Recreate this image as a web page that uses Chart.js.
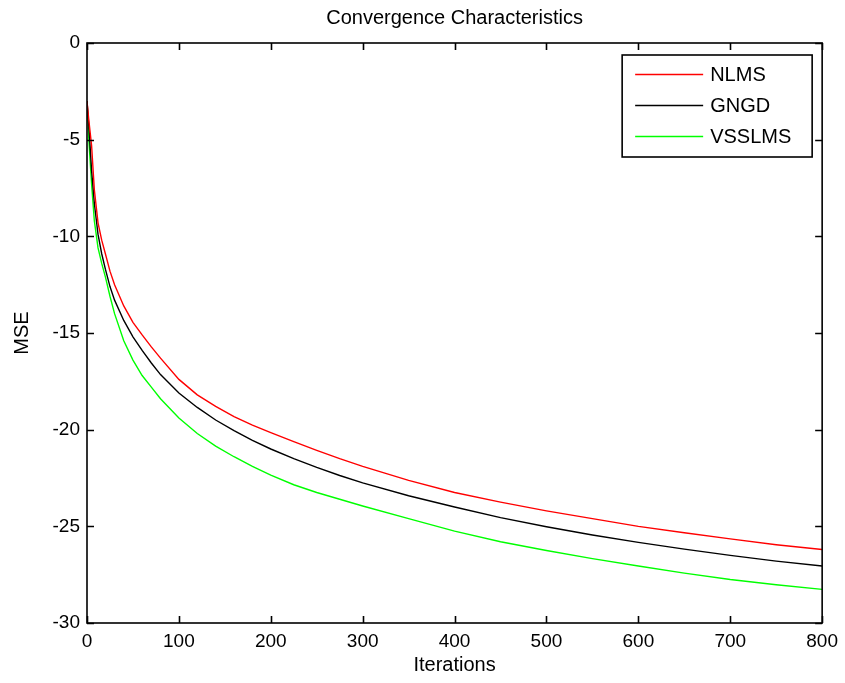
<!DOCTYPE html>
<html>
<head>
<meta charset="utf-8">
<title>Convergence Characteristics</title>
<script src="https://cdn.jsdelivr.net/npm/chart.js@4"></script>
<style>
  html, body { margin: 0; padding: 0; background: #fff; }
  canvas { display: block; }
</style>
</head>
<body>
<canvas id="myChart" width="845" height="683"></canvas>
<script>
// values
const iterations = [0, 2, 5, 8, 12, 16, 20, 25, 30, 40, 50, 60, 70, 80, 100, 120, 140, 160, 180, 200,
  225, 250, 275, 300, 350, 400, 450, 500, 550, 600, 650, 700, 750, 800];

const nlms = [-3.0, -4.0, -5.3, -7.6, -9.3, -10.2, -10.9, -11.8, -12.5, -13.6, -14.45, -15.1, -15.72, -16.3, -17.4, -18.2, -18.8, -19.32, -19.76, -20.15,
  -20.62, -21.07, -21.5, -21.9, -22.62, -23.25, -23.75, -24.2, -24.6, -25.0, -25.33, -25.65, -25.95, -26.2];

const gngd = [-3.0, -4.3, -6.6, -8.3, -9.9, -10.9, -11.7, -12.6, -13.3, -14.35, -15.2, -15.9, -16.55, -17.15, -18.1, -18.85, -19.5, -20.05, -20.55, -21.0,
  -21.5, -21.95, -22.37, -22.75, -23.42, -24.0, -24.55, -25.02, -25.45, -25.83, -26.18, -26.5, -26.8, -27.05];

const vsslms = [-3.0, -5.0, -7.3, -9.2, -10.6, -11.4, -12.1, -13.1, -14.0, -15.4, -16.4, -17.2, -17.8, -18.4, -19.4, -20.2, -20.85, -21.4, -21.9, -22.35,
  -22.85, -23.25, -23.6, -23.95, -24.6, -25.25, -25.8, -26.25, -26.67, -27.05, -27.42, -27.75, -28.02, -28.26];

const seriesNames = ['NLMS', 'GNGD', 'VSSLMS'];
const seriesColors = ['#ff0000', '#000000', '#00ff00'];

const xTicks = [0, 100, 200, 300, 400, 500, 600, 700, 800];
const yTicks = [0, -5, -10, -15, -20, -25, -30];

function toPoints(vals) {
  return vals.map((v, i) => ({ x: iterations[i], y: v }));
}

// matlab style box with inward ticks on all four sides
const boxPlugin = {
  id: 'boxPlugin',
  afterDatasetsDraw(chart) {
    const { ctx, chartArea: a, scales } = chart;
    const tl = 7;
    ctx.save();
    ctx.strokeStyle = '#000';
    ctx.lineWidth = 1.6;
    ctx.beginPath();
    xTicks.forEach(v => {
      const px = Math.round(scales.x.getPixelForValue(v)) + 0.5;
      ctx.moveTo(px, a.bottom); ctx.lineTo(px, a.bottom - tl);
      ctx.moveTo(px, a.top); ctx.lineTo(px, a.top + tl);
    });
    yTicks.forEach(v => {
      const py = Math.round(scales.y.getPixelForValue(v)) + 0.5;
      ctx.moveTo(a.left, py); ctx.lineTo(a.left + tl, py);
      ctx.moveTo(a.right, py); ctx.lineTo(a.right - tl, py);
    });
    ctx.stroke();
    ctx.strokeRect(a.left, a.top, a.right - a.left, a.bottom - a.top);
    ctx.restore();
  }
};

// legend box in the upper right corner of the axes
const legendBox = {
  id: 'legendBox',
  afterDraw(chart) {
    const { ctx, chartArea: a } = chart;
    const right = a.right - 10, top = a.top + 12;
    const w = 190, h = 102;
    const left = right - w;
    ctx.save();
    ctx.fillStyle = '#fff';
    ctx.fillRect(left, top, w, h);
    ctx.strokeStyle = '#000';
    ctx.lineWidth = 1.6;
    ctx.strokeRect(left, top, w, h);
    ctx.font = '20px "Liberation Sans", Arial, sans-serif';
    ctx.textBaseline = 'middle';
    ctx.textAlign = 'left';
    chart.data.datasets.forEach((ds, i) => {
      const yy = top + 19.5 + i * 31;
      ctx.strokeStyle = ds.borderColor;
      ctx.lineWidth = 1.4;
      ctx.beginPath();
      ctx.moveTo(left + 13, yy);
      ctx.lineTo(left + 81, yy);
      ctx.stroke();
      ctx.fillStyle = '#000';
      ctx.fillText(ds.label, left + 88, yy + 1);
    });
    ctx.restore();
  }
};

Chart.defaults.font.family = '"Liberation Sans", Arial, Helvetica, sans-serif';
Chart.defaults.color = '#000';

const ctx = document.getElementById('myChart').getContext('2d');
new Chart(ctx, {
  type: 'line',
  data: {
    datasets: [nlms, gngd, vsslms].map((vals, i) => ({
      label: seriesNames[i],
      data: toPoints(vals),
      borderColor: seriesColors[i],
      backgroundColor: seriesColors[i],
      borderWidth: 1.4,
      pointRadius: 0,
      tension: 0,
      fill: false
    }))
  },
  options: {
    responsive: false,
    animation: false,
    layout: { padding: { top: 0, left: 0, right: 22, bottom: 0 } },
    plugins: {
      legend: { display: false },
      tooltip: { enabled: false },
      title: {
        display: true,
        text: 'Convergence Characteristics',
        fullSize: false,
        font: { size: 20, weight: 'normal' },
        padding: { top: 6, bottom: 13 }
      }
    },
    scales: {
      x: {
        type: 'linear',
        min: 0,
        max: 800,
        grid: { display: false, drawTicks: false },
        border: { display: false },
        afterBuildTicks: s => { s.ticks = xTicks.map(v => ({ value: v })); },
        afterFit: s => { s.height = 60; },
        ticks: { font: { size: 19 }, padding: 7, maxRotation: 0 },
        title: { display: true, text: 'Iterations', font: { size: 20 }, padding: { top: 0, bottom: 6 } }
      },
      y: {
        type: 'linear',
        min: -30,
        max: 0,
        grid: { display: false, drawTicks: false },
        border: { display: false },
        afterBuildTicks: s => { s.ticks = yTicks.map(v => ({ value: v })); },
        afterFit: s => { s.width = 87; },
        ticks: { font: { size: 19 }, padding: 7 },
        title: { display: true, text: 'MSE', font: { size: 20 }, padding: { top: 10, bottom: 0 } }
      }
    }
  },
  plugins: [boxPlugin, legendBox]
});
</script>
</body>
</html>
